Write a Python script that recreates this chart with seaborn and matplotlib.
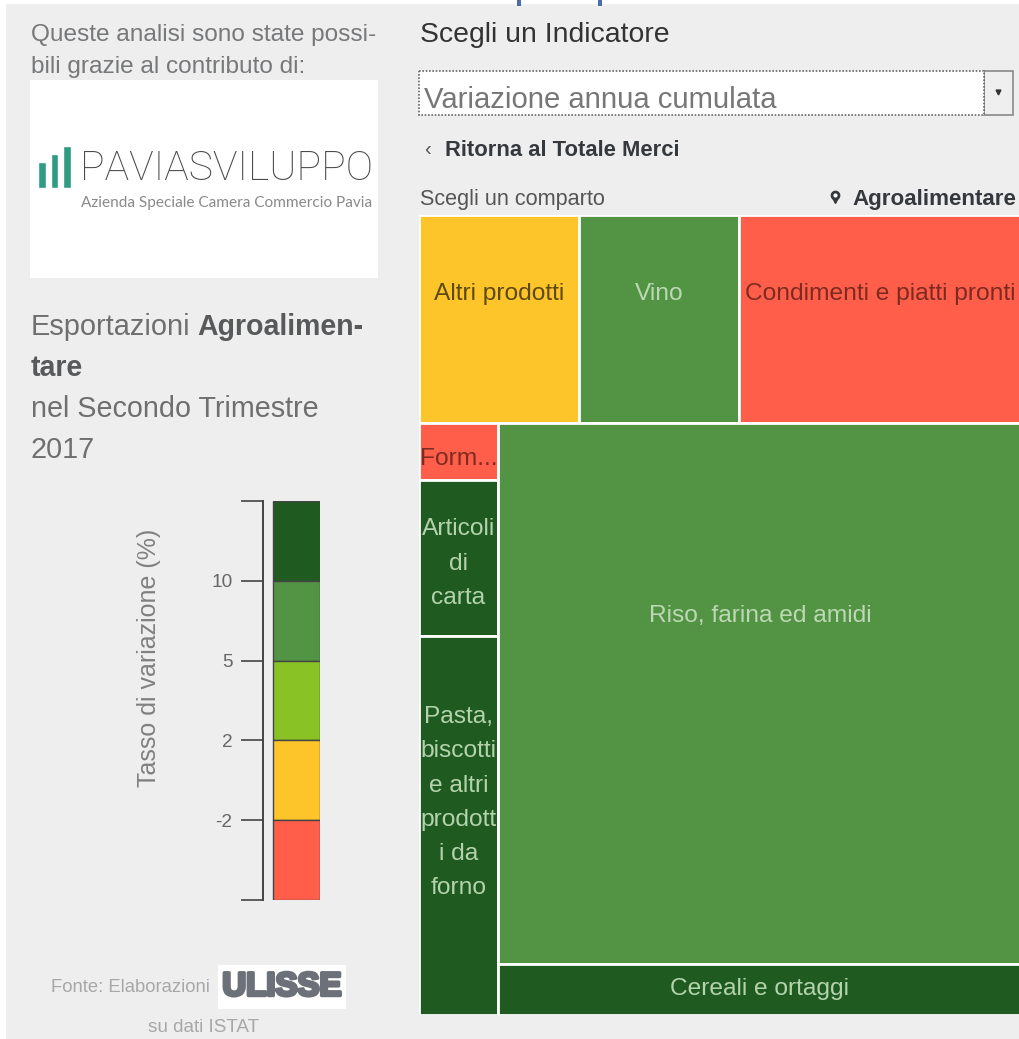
import seaborn as sns
import pandas as pd
import matplotlib.pyplot as plt
import matplotlib.patheffects as pe
from matplotlib.patches import Rectangle

# treemap, weight of each product (% of total), grouped in the 3 blocks of the layout
top_names = ["Altri prodotti", "Vino", "Condimenti e piatti pronti"]
top_values = [6.9, 6.9, 12.2]
top_classes = [3, 1, 4]
left_names = ["Form...", "Articoli\ndi\ncarta", "Pasta,\nbiscotti\ne altri\nprodott\ni da\nforno"]
left_values = [0.94, 2.54, 6.2]
left_classes = [4, 0, 0]
right_names = ["Riso, farina ed amidi", "Cereali e ortaggi"]
right_values = [58.8, 5.52]
right_classes = [1, 0]

# legend
class_colors = ["#1f5b20", "#529443", "#88c225", "#fec52b", "#ff5f4a"]
text_colors = ["#b4d3ac", "#bcd8b4", "#2f4a10", "#5e4a10", "#7d2a20"]
legend_ticks = ["", "-2", "2", "5", "10", ""]

sns.set_theme(style="white")
plt.rcParams['font.family'] = ['Liberation Sans', 'DejaVu Sans']

fig = plt.figure(figsize=(10.2, 10.39), dpi=100, facecolor="white")
W, H = 1020, 1039

def add_axes_px(x0, y0, x1, y1, **kw):   # axes from picture pixels
    return fig.add_axes([x0/W, 1-y1/H, (x1-x0)/W, (y1-y0)/H], **kw)

# page layer, everything in pixels
page = add_axes_px(0, 0, W, H)
page.set_xlim(0, W)
page.set_ylim(H, 0)
page.axis("off")
page.add_patch(Rectangle((6, 4), W-6, H-4, color="#eeeeee", lw=0))
page.add_patch(Rectangle((517, 0), 4, 6, color="#4a6da7", lw=0))
page.add_patch(Rectangle((598, 0), 4, 6, color="#4a6da7", lw=0))

def txt(x, y, s, size, color, **kw):
    kw.setdefault("va", "center")
    return page.text(x, y+2, s, fontsize=size*0.72, color=color, **kw)

# left column
txt(31, 33, "Queste analisi sono state possi-", 24.4, "#77787a")
txt(31, 65, "bili grazie al contributo di:", 24.4, "#77787a")
page.add_patch(Rectangle((30, 80), 348, 198, color="white", lw=0))
txt(80, 167, "PAVIASVILUPPO", 41, "#4a4a4c", family="Roboto", fontweight="light")
txt(372, 201, "Azienda Speciale Camera Commercio Pavia", 15.4, "#8a8a8a", ha="right", family="Lato")
txt(31, 325, "Esportazioni", 29, "#6f6f70")
txt(197, 325, "Agroalimen-", 28.5, "#58595b", fontweight="bold")
txt(31, 366, "tare", 28.5, "#58595b", fontweight="bold")
txt(31, 407, "nel Secondo Trimestre", 28.8, "#6f6f70")
txt(31, 448, "2017", 28.8, "#6f6f70")

txt(51, 985, "Fonte: Elaborazioni", 18.5, "#a8a8a8")
page.add_patch(Rectangle((218, 965), 128, 44, color="white", lw=0))
uli = txt(282, 985, "ULISSE", 33, "#6c7078", ha="center", fontweight="bold")
uli.set_path_effects([pe.withStroke(linewidth=2.5, foreground="#6c7078")])
txt(204, 1026, "su dati ISTAT", 18.9, "#a8a8a8", ha="center")

# logo bars
logo = add_axes_px(36, 146, 73, 188)
sns.barplot(x=["a", "b", "c"], y=[25, 33, 41], color="#2f9b82", width=0.62, saturation=1, ax=logo)
logo.set_ylim(0, 41)
logo.axis("off")

# right column
txt(420, 33, "Scegli un Indicatore", 28.4, "#333333")
page.add_patch(Rectangle((984, 71), 29, 44, facecolor="#efefef", edgecolor="#888888", lw=1.2))
page.add_patch(Rectangle((419, 71), 565, 44, facecolor="white", edgecolor="#666666", lw=1.2, ls=(0, (1, 1))))
page.plot([998], [92], marker="v", color="#333333", ms=3.5)
txt(424, 98, "Variazione annua cumulata", 29.2, "#777777")
txt(424, 147, "‹", 20, "#555555")
txt(445, 149, "Ritorna al Totale Merci", 22, "#35383d", fontweight="bold")
txt(420, 197, "Scegli un comparto", 21.7, "#555555")
txt(1016, 197, "Agroalimentare", 22.4, "#35383d", fontweight="bold", ha="right")
page.plot([835], [199], marker="v", color="#35383d", ms=6)
page.plot([835], [195], marker="o", color="#35383d", ms=6)
page.plot([835], [195], marker="o", color="white", ms=2)

# colour scale, one band per class, upper band first
leg = add_axes_px(263, 501, 320, 900)
for i, col in enumerate(class_colors):
    sns.barplot(x=["band"], y=[1], bottom=4-i, color=col, width=1, saturation=1,
                edgecolor="#444444", linewidth=1, ax=leg)
leg.set_xlim(-0.713, 0.5)
leg.set_ylim(0, 5)
leg.set_xlabel("")
leg.set_xticks([])
leg.set_yticks(range(6))
leg.set_yticklabels(legend_ticks)
leg.tick_params(axis="y", left=True, length=16, width=1.2, color="#444444", pad=6,
                labelsize=19*0.72, labelcolor="#666666")
sns.despine(ax=leg, top=True, right=True, bottom=True)
leg.spines["left"].set_color("#444444")
leg.spines["left"].set_linewidth(1.4)
leg.set_facecolor("none")
leg.set_ylabel("Tasso di variazione (%)", fontsize=25*0.72, color="#808080")
leg.yaxis.set_label_coords(-1.79, 0.606)

# treemap
def slice_tiles(values, names, classes, x0, y0, w, h, vertical):
    total = sum(values)
    rows = []
    pos = 0
    for v, n, c in zip(values, names, classes):
        share = v/total
        if vertical:
            rows.append((x0, y0+pos*h, w, share*h, n, c))
        else:
            rows.append((x0+pos*w, y0, share*w, h, n, c))
        pos += share
    return rows

grand = sum(top_values)+sum(left_values)+sum(right_values)
top_h = sum(top_values)/grand
left_w = sum(left_values)/(grand-sum(top_values))
tiles = slice_tiles(top_values, top_names, top_classes, 0, 0, 1, top_h, False)
tiles += slice_tiles(left_values, left_names, left_classes, 0, top_h, left_w, 1-top_h, True)
tiles += slice_tiles(right_values, right_names, right_classes, left_w, top_h, 1-left_w, 1-top_h, True)
tree = pd.DataFrame(tiles, columns=["x", "y", "w", "h", "name", "cls"])

ax = add_axes_px(419, 215, 1022, 1015)
ax.bar(tree["x"], tree["h"], width=tree["w"], bottom=tree["y"], align="edge",
       color=[class_colors[c] for c in tree["cls"]], edgecolor="white", linewidth=2)
ax.set_xlim(0, 1)
ax.set_ylim(1, 0)
ax.axis("off")
# label height inside each tile, same order as the table
label_pos = [0.38, 0.38, 0.38, 0.62, 0.535, 0.44, 0.357, 0.49]
for (_, t), p in zip(tree.iterrows(), label_pos):
    ax.text(t["x"]+t["w"]/2, t["y"]+t["h"]*p, t["name"], ha="center", va="center",
            fontsize=24.5*0.72, linespacing=1.72, color=text_colors[t["cls"]])

fig.savefig("out.png", dpi=100)
